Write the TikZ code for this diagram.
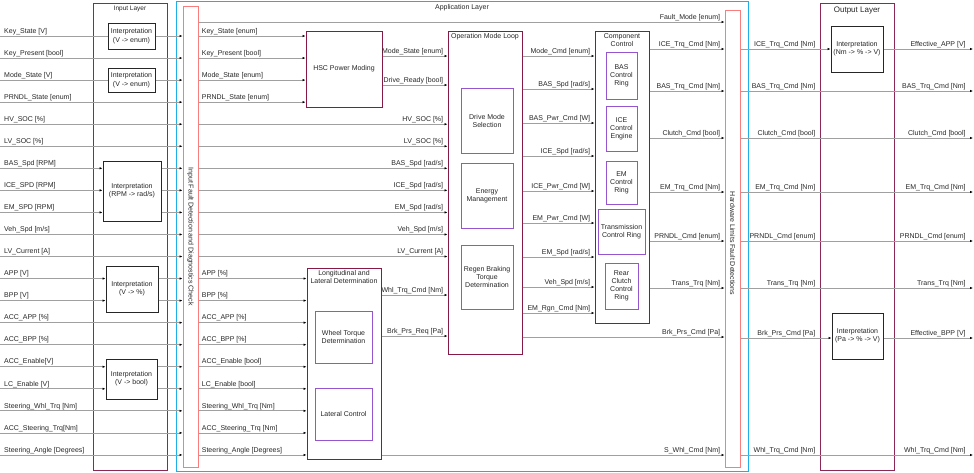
\documentclass[tikz,border=0pt]{standalone}
\usepackage{fontspec}
\setmainfont{Liberation Sans}
\usetikzlibrary{arrows.meta}
\definecolor{layerred}{RGB}{140,40,85}
\definecolor{blockred}{RGB}{135,25,70}
\definecolor{ringpurple}{RGB}{150,85,205}
\definecolor{appblue}{RGB}{30,175,230}
\definecolor{faultred}{RGB}{250,125,125}
\definecolor{sigline}{RGB}{160,160,160}

\begin{document}
\begin{tikzpicture}[x=1pt, y=-1pt, >={Latex[length=3pt,width=2.5pt,color=black]},
    font=\fontsize{7}{8}\selectfont, text=black!85,
    layer/.style={draw=layerred, line width=1pt, inner sep=0pt},
    block/.style={draw=blockred, line width=1pt, inner sep=1pt, align=center},
    ring/.style={draw=ringpurple, line width=1pt, inner sep=1pt, align=center},
    interp/.style={draw=black!85, line width=1pt, fill=white, inner sep=1pt, align=center},
    fault/.style={draw=faultred, line width=1pt, inner sep=0pt},
    sig/.style={draw=sigline, line width=0.75pt},
    lblw/.style={anchor=base west, inner sep=0pt, xshift=3pt, yshift=2.8pt},
    lble/.style={anchor=base east, inner sep=0pt, xshift=-4pt, yshift=2.8pt}]

    \useasboundingbox (0,0) rectangle (974,472);

    % layers
    \node[layer, minimum width=74pt, minimum height=467pt] (inl) at (130,236.5) {};
    \node[draw=appblue, line width=1pt, minimum width=572pt, minimum height=470pt] (app) at (462,236) {};
    \node[layer, minimum width=74pt, minimum height=467pt] (outl) at (857,236.5) {};
    \node[anchor=north, inner sep=3.5pt, font=\fontsize{6.5}{8}\selectfont] (inltitle) at (inl.north) {Input Layer};
    \node[anchor=north, inner sep=3.5pt] (apptitle) at (app.north) {Application Layer};
    \node[anchor=north, inner sep=4pt, font=\fontsize{8}{9}\selectfont] (outltitle) at (outl.north) {Output Layer};

    % fault checks
    \node[fault, minimum width=15pt, minimum height=461pt] (ifd) at (190.5,236.5) {};
    \node[rotate=-90] (ifdtext) at (ifd.center) {Input Fault Detection and Diagnostics Check};
    \node[fault, minimum width=15pt, minimum height=457pt] (hw) at (732.5,238.5) {};
    \node[rotate=-90] (hwtext) at ([yshift=-5pt]hw.center) {Hardware Limits Fault Detections};

    % interpretation blocks
    \node[interp, minimum width=47pt, minimum height=26pt] (ienum1) at (131.5,36) {Interpretation\\[1.5pt](V -> enum)};
    \node[interp, minimum width=47pt, minimum height=24pt] (ienum2) at (131.5,80) {Interpretation\\[1.5pt](V -> enum)};
    \node[interp, minimum width=58pt, minimum height=60pt] (irpm) at (132,191) {Interpretation\\(RPM -> rad/s)};
    \node[interp, minimum width=52pt, minimum height=46pt] (ipct) at (132,289) {Interpretation\\(V -> \%)};
    \node[interp, minimum width=51pt, minimum height=40pt] (ibool) at (131.5,379) {Interpretation\\(V -> bool)};
    \node[interp, minimum width=52pt, minimum height=46pt] (iapp) at (857,49) {Interpretation\\(Nm -> \% -> V)};
    \node[interp, minimum width=51pt, minimum height=46pt] (ibpp) at (857.5,336) {Interpretation\\(Pa -> \% -> V)};

    % application blocks
    \node[block, minimum width=76pt, minimum height=76pt] (hsc) at (344,69) {HSC Power Moding};

    \node[block, minimum width=74pt, minimum height=323pt] (oml) at (485,192.5) {};
    \node[anchor=north, inner sep=3pt] (omltitle) at (oml.north) {Operation Mode Loop};
    \node[ring, minimum width=52pt, minimum height=65pt] (dms) at (487,120.5) {Drive Mode\\Selection};
    \node[ring, minimum width=52pt, minimum height=65pt] (enm) at (487,195.5) {Energy\\Management};
    \node[ring, minimum width=52pt, minimum height=64pt] (regen) at (487,277) {Regen Braking\\Torque\\Determination};

    \node[block, minimum width=74pt, minimum height=191pt] (lld) at (344,363.5) {};
    \node[anchor=north, inner sep=3pt, align=center] (lldtitle) at (lld.north) {Longitudinal and\\Lateral Determination};
    \node[ring, minimum width=57pt, minimum height=52pt] (wtd) at (343.5,337) {Wheel Torque\\Determination};
    \node[ring, minimum width=57pt, minimum height=52pt] (latc) at (343.5,414) {Lateral Control};

    \node[block, minimum width=54pt, minimum height=292pt] (cc) at (622,177) {};
    \node[anchor=north, inner sep=3pt, align=center] (cctitle) at (cc.north) {Component\\Control};
    \node[ring, minimum width=31pt, minimum height=47pt] (basr) at (621.5,75.5) {BAS\\Control\\Ring};
    \node[ring, minimum width=31pt, minimum height=45pt] (icer) at (621.5,128.5) {ICE\\Control\\Engine};
    \node[ring, minimum width=31pt, minimum height=43pt] (emr) at (621.5,182.5) {EM\\Control\\Ring};
    \node[ring, minimum width=47pt, minimum height=45pt] (trr) at (621.5,231.5) {Transmission\\Control Ring};
    \node[ring, minimum width=33pt, minimum height=46pt] (rcr) at (621.5,286) {Rear\\Clutch\\Control\\Ring};

    % raw inputs
    \foreach \i in {0,...,19}
        \coordinate (L\i) at (0,{36+22.05*\i});

    \foreach \i in {1,3,4,5,9,10,13,14,17,18,19}
        \draw[sig,->] (L\i) -- (ifd.west |- L\i);
    \draw[sig] (L0) -- (ienum1.west |- L0);
    \draw[sig,->] (ienum1.east |- L0) -- (ifd.west |- L0);
    \draw[sig] (L2) -- (ienum2.west |- L2);
    \draw[sig,->] (ienum2.east |- L2) -- (ifd.west |- L2);
    \foreach \i in {6,7,8} {
        \draw[sig,->] (L\i) -- (irpm.west |- L\i);
        \draw[sig,->] (irpm.east |- L\i) -- (ifd.west |- L\i);
    }
    \foreach \i in {11,12} {
        \draw[sig,->] (L\i) -- (ipct.west |- L\i);
        \draw[sig,->] (ipct.east |- L\i) -- (ifd.west |- L\i);
    }
    \foreach \i in {15,16} {
        \draw[sig,->] (L\i) -- (ibool.west |- L\i);
        \draw[sig,->] (ibool.east |- L\i) -- (ifd.west |- L\i);
    }

    \foreach \i/\lbl in {0/{Key\_State [V]}, 1/{Key\_Present [bool]}, 2/{Mode\_State [V]},
        3/{PRNDL\_State [enum]}, 4/{HV\_SOC [\%]}, 5/{LV\_SOC [\%]}, 6/{BAS\_Spd [RPM]},
        7/{ICE\_SPD [RPM]}, 8/{EM\_SPD [RPM]}, 9/{Veh\_Spd [m/s]}, 10/{LV\_Current [A]},
        11/{APP [V]}, 12/{BPP [V]}, 13/{ACC\_APP [\%]}, 14/{ACC\_BPP [\%]},
        15/{ACC\_Enable[V]}, 16/{LC\_Enable [V]}, 17/{Steering\_Whl\_Trq [Nm]},
        18/{ACC\_Steering\_Trq[Nm]}, 19/{Steering\_Angle [Degrees]}}
        \node[lblw] (raw\i) at ([xshift=1pt]L\i) {\lbl};

    % checked inputs
    \foreach \i/\lbl in {0/{Key\_State [enum]}, 1/{Key\_Present [bool]},
        2/{Mode\_State [enum]}, 3/{PRNDL\_State [enum]}}
        \draw[sig,->] (ifd.east |- L\i) -- (hsc.west |- L\i) node[pos=0, lblw] (fd\i) {\lbl};
    \foreach \i/\lbl in {4/{HV\_SOC [\%]}, 5/{LV\_SOC [\%]}, 6/{BAS\_Spd [rad/s]},
        7/{ICE\_Spd [rad/s]}, 8/{EM\_Spd [rad/s]}, 9/{Veh\_Spd [m/s]}, 10/{LV\_Current [A]}}
        \draw[sig,->] (ifd.east |- L\i) -- (oml.west |- L\i) node[pos=1, lble] (fd\i) {\lbl};
    \foreach \i/\lbl in {11/{APP [\%]}, 12/{BPP [\%]}, 13/{ACC\_APP [\%]}, 14/{ACC\_BPP [\%]},
        15/{ACC\_Enable [bool]}, 16/{LC\_Enable [bool]}, 17/{Steering\_Whl\_Trq [Nm]},
        18/{ACC\_Steering\_Trq [Nm]}, 19/{Steering\_Angle [Degrees]}}
        \draw[sig,->] (ifd.east |- L\i) -- (lld.west |- L\i) node[pos=0, lblw] (fd\i) {\lbl};

    % into the operation mode loop
    \foreach \y/\lbl in {56/{Mode\_State [enum]}, 85/{Drive\_Ready [bool]}} {
        \coordinate (h\y) at (0,\y);
        \draw[sig,->] (hsc.east |- h\y) -- (oml.west |- h\y) node[pos=1, lble] (hl\y) {\lbl};
    }
    \foreach \y/\lbl in {295/{Whl\_Trq\_Cmd [Nm]}, 336/{Brk\_Prs\_Req [Pa]}} {
        \coordinate (d\y) at (0,\y);
        \draw[sig,->] (lld.east |- d\y) -- (oml.west |- d\y) node[pos=1, lble] (dl\y) {\lbl};
    }

    % into component control
    \foreach \y/\lbl in {56/{Mode\_Cmd [enum]}, 89/{BAS\_Spd [rad/s]}, 123/{BAS\_Pwr\_Cmd [W]},
        156/{ICE\_Spd [rad/s]}, 191/{ICE\_Pwr\_Cmd [W]}, 223/{EM\_Pwr\_Cmd [W]},
        257/{EM\_Spd [rad/s]}, 287/{Veh\_Spd [m/s]}, 313/{EM\_Rgn\_Cmd [Nm]}} {
        \coordinate (m\y) at (0,\y);
        \draw[sig,->] (oml.east |- m\y) -- (cc.west |- m\y) node[pos=1, lble] (ml\y) {\lbl};
    }

    % into hardware limits
    \coordinate (f22) at (0,22);
    \draw[sig,->] (ifd.east |- f22) -- (hw.west |- f22) node[pos=1, lble] (fl22) {Fault\_Mode [enum]};
    \foreach \y/\lbl in {49/{ICE\_Trq\_Cmd [Nm]}, 91/{BAS\_Trq\_Cmd [Nm]}, 138/{Clutch\_Cmd [bool]},
        192/{EM\_Trq\_Cmd [Nm]}, 241/{PRNDL\_Cmd [enum]}, 288/{Trans\_Trq [Nm]}} {
        \coordinate (c\y) at (0,\y);
        \draw[sig,->] (cc.east |- c\y) -- (hw.west |- c\y) node[pos=1, lble] (cl\y) {\lbl};
    }
    \coordinate (f337) at (0,337);
    \draw[sig,->] (oml.east |- f337) -- (hw.west |- f337) node[pos=1, lble] (fl337) {Brk\_Prs\_Cmd [Pa]};
    \coordinate (f455) at (0,455);
    \draw[sig,->] (lld.east |- f455) -- (hw.west |- f455) node[pos=1, lble] (fl455) {S\_Whl\_Cmd [Nm]};

    % outputs
    \foreach \y/\lbl in {91/{BAS\_Trq\_Cmd [Nm]}, 138/{Clutch\_Cmd [bool]}, 192/{EM\_Trq\_Cmd [Nm]},
        241/{PRNDL\_Cmd [enum]}, 288/{Trans\_Trq [Nm]}, 455/{Whl\_Trq\_Cmd [Nm]}} {
        \coordinate (E\y) at (973,\y);
        \draw[sig,->] (hw.east |- E\y) -- (E\y) node[pos=1, lble, xshift=-3pt] (ro\y) {\lbl};
        \node[lble] (lo\y) at (outl.west |- E\y) {\lbl};
    }
    \coordinate (E49) at (973,49);
    \draw[sig,->] (hw.east |- E49) -- (iapp.west |- E49);
    \node[lble] (lo49) at (outl.west |- E49) {ICE\_Trq\_Cmd [Nm]};
    \draw[sig,->] (iapp.east |- E49) -- (E49) node[pos=1, lble, xshift=-3pt] (ro49) {Effective\_APP [V]};
    \coordinate (E338) at (973,338);
    \draw[sig,->] (hw.east |- E338) -- (ibpp.west |- E338);
    \node[lble] (lo338) at (outl.west |- E338) {Brk\_Prs\_Cmd [Pa]};
    \draw[sig,->] (ibpp.east |- E338) -- (E338) node[pos=1, lble, xshift=-3pt] (ro338) {Effective\_BPP [V]};
\end{tikzpicture}
\end{document}
